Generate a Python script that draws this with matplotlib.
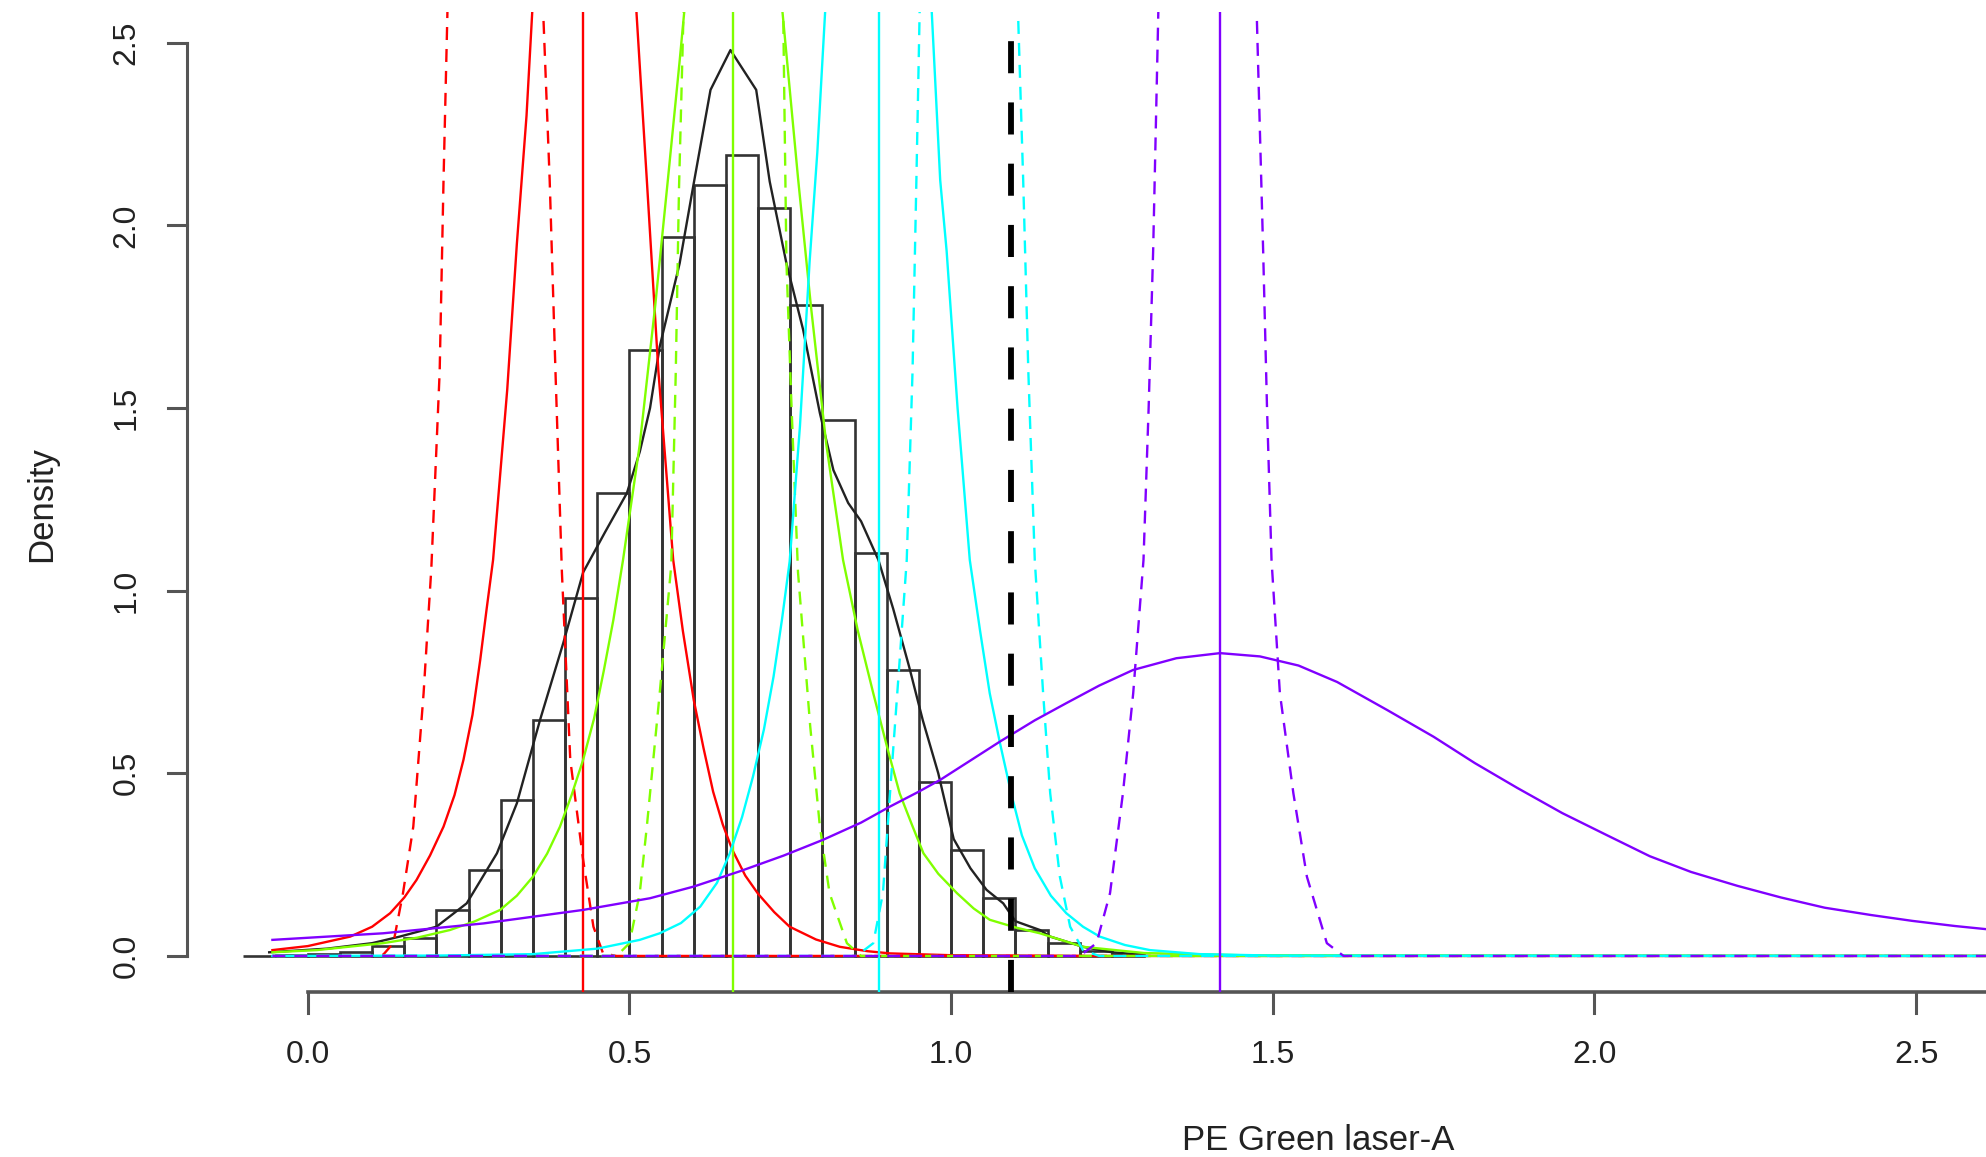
import numpy as np
import matplotlib.pyplot as plt

plt.rcParams["font.family"] = ["Liberation Sans", "DejaVu Sans"]

# histogram (density scale), bins of 0.05 starting at -0.10
bin_start = -0.10
bin_width = 0.05
hist_heights = [0.0, 0.003, 0.005, 0.012, 0.028, 0.048, 0.126, 0.235, 0.427, 0.646,
                0.979, 1.267, 1.659, 1.969, 2.111, 2.193, 2.047, 1.782, 1.467, 1.102,
                0.783, 0.477, 0.290, 0.158, 0.071, 0.035, 0.014, 0.005]

# black density line
dens_x = [-0.06, 0.03, 0.10, 0.143, 0.20, 0.247, 0.294, 0.325, 0.361, 0.397, 0.428, 0.462,
          0.496, 0.516, 0.532, 0.547, 0.578, 0.599, 0.626, 0.657, 0.697, 0.718, 0.744, 0.770,
          0.796, 0.817, 0.840, 0.860, 0.887, 0.910, 0.935, 0.956, 0.980, 1.004, 1.030, 1.055,
          1.081, 1.100, 1.138, 1.154, 1.205, 1.25, 1.30]
dens_y = [0.01, 0.02, 0.035, 0.053, 0.08, 0.144, 0.281, 0.418, 0.646, 0.856, 1.05, 1.16,
          1.267, 1.38, 1.50, 1.668, 1.896, 2.106, 2.371, 2.48, 2.371, 2.12, 1.896, 1.714,
          1.486, 1.33, 1.24, 1.19, 1.084, 0.95, 0.79, 0.645, 0.50, 0.32, 0.24, 0.181,
          0.144, 0.095, 0.071, 0.053, 0.025, 0.01, 0.003]

# component fits (solid) and their narrow companions (dashed)
red_x = [-0.055, 0.0, 0.066, 0.10, 0.128, 0.15, 0.169, 0.19, 0.211, 0.228, 0.242, 0.256,
         0.268, 0.278, 0.288, 0.31, 0.325, 0.34, 0.35, 0.428, 0.511, 0.527, 0.545, 0.568,
         0.583, 0.60, 0.615, 0.63, 0.645, 0.66, 0.68, 0.70, 0.725, 0.749, 0.79, 0.827,
         0.87, 0.905, 1.0, 1.2, 2.7]
red_y = [0.016, 0.027, 0.053, 0.08, 0.117, 0.16, 0.208, 0.275, 0.354, 0.44, 0.537, 0.66,
         0.81, 0.95, 1.084, 1.55, 1.95, 2.3, 2.62, 6.0, 2.58, 2.124, 1.6, 1.084,
         0.89, 0.70, 0.57, 0.45, 0.36, 0.29, 0.22, 0.17, 0.12, 0.08, 0.045, 0.025,
         0.013, 0.007, 0.002, 0.0, 0.0]
red_d_x = [-0.055, 0.10, 0.117, 0.133, 0.148, 0.164, 0.18, 0.192, 0.205, 0.211, 0.217, 0.222,
           0.29, 0.362, 0.366, 0.376, 0.385, 0.395, 0.408, 0.428, 0.444, 0.459, 0.48, 2.7]
red_d_y = [0.0, 0.0, 0.003, 0.035, 0.172, 0.354, 0.719, 1.06, 1.6, 2.124, 2.58, 3.0,
           8.0, 3.0, 2.58, 2.124, 1.6, 1.05, 0.537, 0.263, 0.08, 0.007, 0.0, 0.0]

green_x = [-0.055, 0.014, 0.117, 0.17, 0.221, 0.26, 0.299, 0.325, 0.35, 0.372, 0.392, 0.41,
           0.428, 0.445, 0.46, 0.475, 0.49, 0.516, 0.54, 0.56, 0.578, 0.586, 0.661, 0.737,
           0.745, 0.762, 0.782, 0.806, 0.832, 0.855, 0.879, 0.90, 0.92, 0.94, 0.957, 0.98,
           1.009, 1.035, 1.06, 1.10, 1.138, 1.205, 1.30, 1.45, 2.7]
green_y = [0.01, 0.016, 0.035, 0.05, 0.071, 0.095, 0.126, 0.165, 0.217, 0.28, 0.354, 0.44,
           0.537, 0.65, 0.78, 0.92, 1.084, 1.40, 1.78, 2.13, 2.45, 2.6, 5.0, 2.6,
           2.45, 2.13, 1.78, 1.40, 1.084, 0.89, 0.719, 0.575, 0.445, 0.355, 0.281, 0.225,
           0.172, 0.13, 0.099, 0.078, 0.062, 0.025, 0.008, 0.002, 0.0]
green_d_x = [-0.055, 0.48, 0.50, 0.516, 0.527, 0.547, 0.565, 0.572, 0.577, 0.584, 0.59, 0.662,
             0.734, 0.739, 0.744, 0.752, 0.762, 0.781, 0.796, 0.811, 0.838, 0.86, 2.7]
green_d_y = [0.0, 0.0, 0.035, 0.172, 0.354, 0.719, 1.07, 1.6, 2.1, 2.58, 3.0, 9.0,
             3.0, 2.58, 1.9, 1.5, 1.05, 0.628, 0.354, 0.172, 0.035, 0.0, 0.0]

cyan_x = [-0.055, 0.20, 0.35, 0.45, 0.516, 0.547, 0.58, 0.61, 0.636, 0.656, 0.675, 0.692,
          0.709, 0.724, 0.737, 0.749, 0.765, 0.78, 0.792, 0.804, 0.887, 0.97, 0.983, 0.993,
          1.01, 1.029, 1.045, 1.06, 1.076, 1.094, 1.11, 1.13, 1.155, 1.179, 1.205, 1.231,
          1.27, 1.309, 1.386, 1.5, 2.7]
cyan_y = [0.0, 0.001, 0.005, 0.02, 0.044, 0.062, 0.09, 0.135, 0.2, 0.281, 0.38, 0.491,
          0.62, 0.765, 0.92, 1.08, 1.45, 1.9, 2.2, 2.58, 5.0, 2.58, 2.124, 1.93,
          1.5, 1.084, 0.89, 0.719, 0.582, 0.44, 0.33, 0.24, 0.165, 0.117, 0.08, 0.053,
          0.03, 0.016, 0.005, 0.001, 0.0]
cyan_d_x = [-0.055, 0.853, 0.879, 0.894, 0.905, 0.92, 0.931, 0.94, 0.946, 0.951, 0.956, 1.028,
            1.10, 1.104, 1.112, 1.12, 1.13, 1.143, 1.154, 1.169, 1.185, 1.205, 1.23, 2.7]
cyan_d_y = [0.0, 0.0, 0.035, 0.172, 0.445, 0.81, 1.084, 1.6, 2.124, 2.58, 3.0, 9.0,
            3.0, 2.58, 2.124, 1.6, 1.084, 0.719, 0.445, 0.217, 0.08, 0.016, 0.0, 0.0]

purple_x = [-0.055, 0.117, 0.273, 0.428, 0.532, 0.60, 0.672, 0.74, 0.801, 0.86, 0.905, 0.95,
            0.983, 1.03, 1.076, 1.13, 1.179, 1.23, 1.283, 1.35, 1.418, 1.48, 1.54, 1.60,
            1.678, 1.75, 1.814, 1.88, 1.95, 2.02, 2.086, 2.15, 2.222, 2.29, 2.358, 2.43,
            2.494, 2.56, 2.65]
purple_y = [0.044, 0.062, 0.089, 0.126, 0.158, 0.19, 0.232, 0.275, 0.318, 0.365, 0.409, 0.45,
            0.482, 0.535, 0.587, 0.645, 0.692, 0.74, 0.783, 0.815, 0.829, 0.82, 0.795, 0.75,
            0.673, 0.60, 0.528, 0.46, 0.391, 0.33, 0.273, 0.23, 0.192, 0.16, 0.132, 0.112,
            0.096, 0.082, 0.066]
purple_d_x = [-0.055, 1.20, 1.226, 1.247, 1.267, 1.283, 1.299, 1.307, 1.314, 1.322, 1.327, 1.40,
              1.471, 1.475, 1.485, 1.491, 1.498, 1.511, 1.532, 1.553, 1.584, 1.61, 2.7]
purple_d_y = [0.0, 0.0, 0.035, 0.172, 0.445, 0.719, 1.084, 1.5, 1.93, 2.58, 3.0, 9.0,
              3.0, 2.58, 1.93, 1.5, 1.084, 0.719, 0.445, 0.217, 0.035, 0.0, 0.0]

# vertical markers
red_mean, green_mean, cyan_mean, purple_mean = 0.428, 0.661, 0.888, 1.418
cutoff = 1.093

comp_colors = ["#FF0000", "#80FF00", "#00FFFF", "#8000FF"]

fig = plt.figure(figsize=(19.86, 11.57), dpi=100)
# plot region like R's usr box (extends past the right edge of the picture)
ax = fig.add_axes([0.0944, 0.1422, 1.1393, 0.8477])
ax.set_xlim(-0.187, 3.33)
ax.set_ylim(-0.1, 2.585)
ax.axis("off")

edges = bin_start + bin_width * np.arange(len(hist_heights))
ax.bar(edges, hist_heights, width=bin_width, align="edge", fill=False,
       edgecolor="#333333", linewidth=1.9, zorder=1)
ax.plot(dens_x, dens_y, color="#222222", lw=1.7, zorder=2)

comps = [(red_x, red_y, red_d_x, red_d_y, red_mean),
         (green_x, green_y, green_d_x, green_d_y, green_mean),
         (cyan_x, cyan_y, cyan_d_x, cyan_d_y, cyan_mean),
         (purple_x, purple_y, purple_d_x, purple_d_y, purple_mean)]
for i, (cx, cy, dx, dy, m) in enumerate(comps):
    col = comp_colors[i]
    ax.plot(cx, cy, color=col, lw=1.7, zorder=3)
    ax.axvline(m, color=col, lw=1.7, zorder=3)
    ax.plot(dx, dy, color=col, lw=1.7, dashes=(5.5, 3.8), zorder=3)

ax.axvline(cutoff, color="black", lw=4.2, dashes=(5.5, 5), zorder=4)

# axes drawn the R way
axis_col = "#555555"
txt_col = "#222222"
yt = [0.0, 0.5, 1.0, 1.5, 2.0, 2.5]
xt = [0.0, 0.5, 1.0, 1.5, 2.0, 2.5]
ax.plot([-0.187, -0.187], [0, 2.5], color=axis_col, lw=2.2, clip_on=False)
for v in yt:
    ax.plot([-0.187, -0.2165], [v, v], color=axis_col, lw=2.2, clip_on=False)
    ax.text(-0.2815, v, f"{v:.1f}", rotation=90, ha="center", va="center",
            fontsize=23, color=txt_col, clip_on=False)
ax.plot([0, 3.0], [-0.1, -0.1], color=axis_col, lw=2.6, clip_on=False)
for v in xt:
    ax.plot([v, v], [-0.1, -0.156], color=axis_col, lw=2.2, clip_on=False)
    ax.text(v, -0.27, f"{v:.1f}", ha="center", va="center",
            fontsize=23, color=txt_col, clip_on=False)

ax.text(1.571, -0.504, "PE Green laser-A", ha="center", va="center",
        fontsize=25, color=txt_col, clip_on=False)
ax.text(-0.413, 1.237, "Density", rotation=90, ha="center", va="center",
        fontsize=25, color=txt_col, clip_on=False)

fig.savefig("out.png", dpi=100)
